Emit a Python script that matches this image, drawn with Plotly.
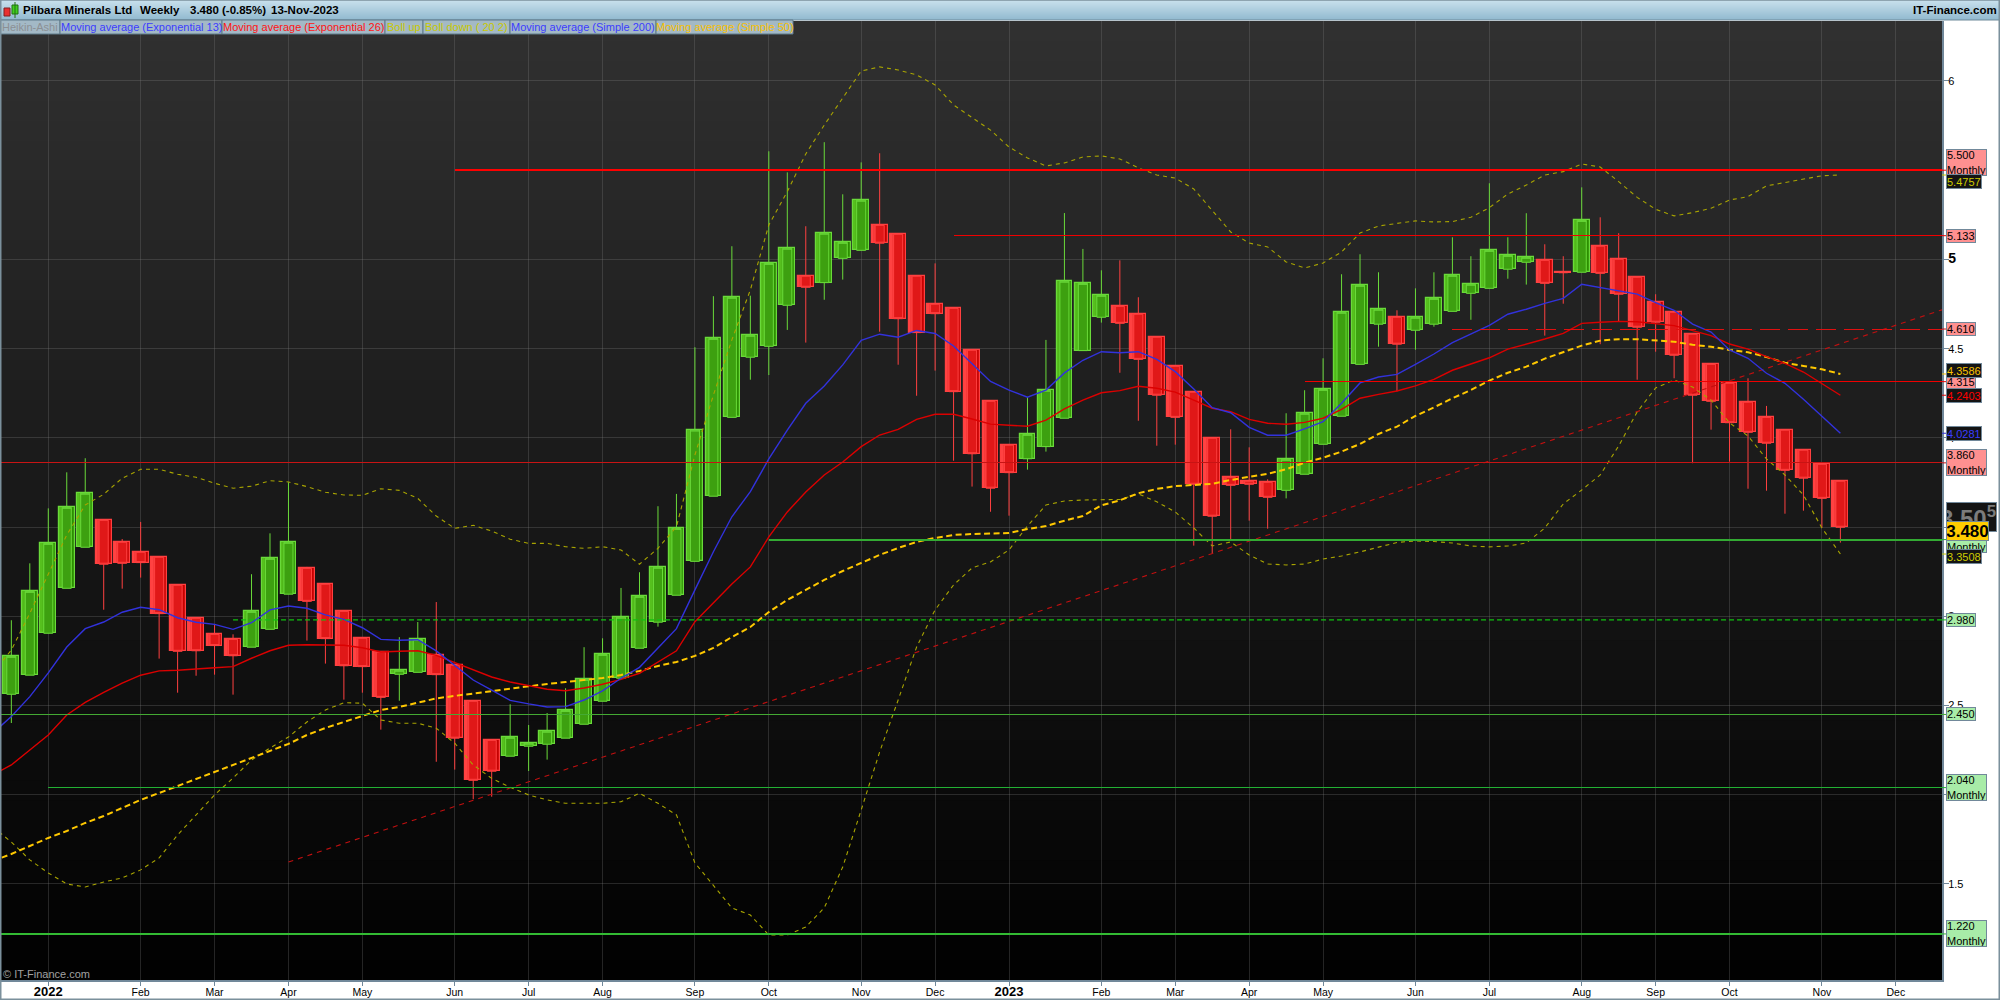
import pandas as pd
import plotly.graph_objects as go

# ---------- data ----------
START = "2021-12-20"
DATES = pd.date_range(START, periods=100, freq="7D")
LINE_DATES = pd.date_range("2021-12-13", periods=101, freq="7D")

OPEN = [2.563,2.670,2.905,3.157,3.387,3.538,3.415,3.359,3.331,3.174,2.989,2.899,2.871,2.827,2.927,3.124,3.269,3.180,3.028,2.877,
        2.800,2.675,2.686,2.782,2.726,2.524,2.305,2.216,2.272,2.283,2.317,2.395,2.524,2.653,2.821,2.967,3.118,3.308,3.673,4.115,
        4.452,4.513,4.743,4.906,4.870,5.006,5.051,5.191,5.141,4.906,4.749,4.726,4.491,4.205,3.959,3.883,3.951,4.110,4.489,4.676,
        4.737,4.693,4.564,4.401,4.256,3.998,3.779,3.757,3.751,3.706,3.796,3.964,4.121,4.412,4.637,4.676,4.603,4.637,4.709,4.810,
        4.838,4.945,4.984,4.995,4.928,4.928,5.074,5.001,4.900,4.760,4.704,4.581,4.412,4.306,4.200,4.115,4.043,3.931,3.852,3.757]
HIGH = [2.978,3.297,3.605,3.807,3.886,3.538,3.433,3.529,3.331,3.174,2.989,2.951,2.899,3.236,3.465,3.751,3.277,3.180,3.028,2.877,
        2.800,2.883,2.968,3.080,2.726,2.524,2.305,2.507,2.391,2.458,2.597,2.827,2.877,3.159,3.247,3.617,3.686,4.508,4.794,5.074,
        4.797,5.606,5.488,5.186,5.657,5.365,5.544,5.595,5.141,4.906,4.978,4.726,4.491,4.205,3.966,4.228,4.549,5.260,5.059,4.939,
        4.995,4.788,4.564,4.401,4.256,3.998,4.048,3.947,3.768,4.138,4.267,4.446,4.917,5.029,4.928,4.715,4.838,4.928,5.124,5.018,
        5.427,5.124,5.259,5.085,5.018,5.404,5.236,5.147,4.906,4.805,4.704,4.581,4.412,4.306,4.334,4.179,4.043,3.931,3.852,3.757]
LOW = [2.402,2.670,2.905,3.157,3.387,3.037,3.155,3.217,2.763,2.572,2.667,2.673,2.561,2.827,2.927,3.124,2.864,2.735,2.533,2.572,
       2.365,2.527,2.686,2.185,2.141,1.975,1.989,2.216,2.133,2.197,2.317,2.395,2.524,2.653,2.821,2.942,3.118,3.308,3.673,4.115,
       4.326,4.352,4.605,4.534,4.774,4.887,5.051,4.595,4.410,4.236,4.377,3.872,3.727,3.586,3.564,3.822,3.923,4.110,4.489,4.646,
       4.365,4.096,3.956,3.962,3.396,3.351,3.425,3.536,3.491,3.661,3.796,3.964,4.121,4.412,4.511,4.261,4.494,4.623,4.709,4.662,
       4.838,4.892,4.859,4.573,4.752,4.928,4.525,4.653,4.326,4.483,4.334,3.858,4.046,3.867,3.715,3.704,3.575,3.592,3.497,3.413]
CLOSE = [2.776,3.140,3.409,3.611,3.690,3.292,3.297,3.301,3.015,2.804,2.807,2.836,2.779,3.028,3.325,3.415,3.084,2.875,2.723,2.718,
         2.546,2.698,2.871,2.673,2.317,2.081,2.132,2.322,2.289,2.356,2.473,2.647,2.787,2.995,3.112,3.275,3.493,4.044,4.558,4.788,
         4.575,4.978,5.063,4.844,5.147,5.096,5.332,5.091,4.668,4.590,4.696,4.259,3.911,3.718,3.805,4.020,4.267,4.878,4.866,4.799,
         4.642,4.440,4.239,4.115,3.740,3.561,3.734,3.740,3.667,3.880,4.138,4.272,4.704,4.855,4.721,4.525,4.676,4.782,4.911,4.861,
         5.051,5.023,5.012,4.866,4.926,5.219,4.922,4.805,4.620,4.648,4.463,4.239,4.205,4.085,4.031,3.970,3.818,3.774,3.661,3.499]

EMA13 = [2.346,2.438,2.550,2.683,2.828,2.931,2.968,3.023,3.051,3.037,2.992,2.967,2.955,2.927,2.964,3.036,3.058,3.045,3.008,2.983,
         2.936,2.871,2.866,2.869,2.806,2.726,2.643,2.586,2.529,2.509,2.492,2.494,2.531,2.582,2.653,2.714,2.824,2.931,3.148,3.362,
         3.558,3.699,3.882,4.044,4.194,4.291,4.409,4.546,4.581,4.564,4.602,4.585,4.515,4.417,4.316,4.268,4.228,4.268,4.364,4.435,
         4.483,4.477,4.483,4.440,4.371,4.274,4.169,4.141,4.059,4.015,4.015,4.050,4.091,4.194,4.308,4.341,4.356,4.412,4.470,4.534,
         4.582,4.631,4.693,4.721,4.754,4.782,4.861,4.842,4.827,4.806,4.758,4.715,4.638,4.593,4.493,4.446,4.362,4.306,4.216,4.119,4.026]
EMA26 = [2.111,2.167,2.251,2.335,2.447,2.518,2.574,2.625,2.670,2.694,2.698,2.703,2.712,2.718,2.765,2.807,2.838,2.841,2.841,2.838,
         2.824,2.800,2.804,2.807,2.781,2.741,2.698,2.660,2.632,2.610,2.591,2.583,2.598,2.619,2.647,2.681,2.746,2.807,2.970,3.075,
         3.181,3.277,3.445,3.585,3.697,3.792,3.865,3.951,4.016,4.048,4.104,4.132,4.132,4.106,4.077,4.071,4.065,4.099,4.162,4.212,
         4.253,4.265,4.289,4.278,4.256,4.212,4.166,4.147,4.104,4.082,4.076,4.087,4.110,4.160,4.222,4.244,4.263,4.291,4.328,4.379,
         4.414,4.449,4.497,4.525,4.554,4.586,4.642,4.648,4.653,4.651,4.640,4.629,4.601,4.573,4.526,4.497,4.455,4.418,4.369,4.306,4.239]
SMA50 = [1.629,1.668,1.713,1.758,1.797,1.842,1.881,1.926,1.971,2.010,2.049,2.088,2.128,2.167,2.206,2.245,2.285,2.335,2.374,2.408,
         2.442,2.475,2.492,2.514,2.540,2.554,2.568,2.582,2.596,2.607,2.621,2.632,2.643,2.654,2.671,2.694,2.722,2.744,2.778,2.823,
         2.884,2.940,3.024,3.092,3.148,3.204,3.254,3.299,3.344,3.383,3.417,3.439,3.456,3.461,3.464,3.467,3.489,3.506,3.536,3.562,
         3.622,3.650,3.690,3.714,3.730,3.738,3.742,3.764,3.783,3.799,3.824,3.861,3.889,3.923,3.966,4.022,4.063,4.123,4.171,4.222,
         4.268,4.321,4.365,4.399,4.444,4.480,4.517,4.545,4.553,4.553,4.547,4.539,4.522,4.511,4.493,4.480,4.453,4.421,4.403,4.384,4.358]
BOLL_UP = [2.683,2.811,3.017,3.232,3.456,3.624,3.684,3.774,3.824,3.824,3.796,3.779,3.746,3.718,3.729,3.760,3.753,3.727,3.695,3.680,
           3.678,3.715,3.706,3.661,3.562,3.493,3.510,3.478,3.432,3.409,3.409,3.390,3.381,3.390,3.372,3.292,3.381,3.502,3.904,4.240,
           4.549,4.829,5.193,5.380,5.591,5.753,5.905,6.056,6.079,6.062,6.034,5.978,5.866,5.798,5.725,5.630,5.569,5.524,5.541,5.574,
           5.580,5.563,5.513,5.473,5.456,5.395,5.277,5.154,5.092,5.070,4.986,4.952,4.980,5.042,5.148,5.187,5.202,5.216,5.210,5.212,
           5.236,5.290,5.367,5.417,5.473,5.492,5.535,5.518,5.436,5.348,5.281,5.244,5.262,5.287,5.333,5.352,5.412,5.430,5.449,5.469,5.473]
BOLL_DOWN = [1.820,1.735,1.635,1.562,1.500,1.483,1.511,1.534,1.579,1.646,1.775,1.887,1.999,2.094,2.195,2.262,2.324,2.408,2.475,2.516,
             2.513,2.419,2.401,2.401,2.373,2.289,2.167,2.092,2.042,1.999,1.971,1.952,1.952,1.952,1.961,2.008,1.952,1.887,1.618,1.489,
             1.366,1.326,1.214,1.214,1.259,1.366,1.595,1.915,2.240,2.531,2.828,3.036,3.176,3.271,3.305,3.372,3.506,3.624,3.646,3.652,
             3.655,3.655,3.686,3.642,3.585,3.495,3.394,3.417,3.344,3.293,3.288,3.293,3.321,3.338,3.361,3.389,3.414,3.422,3.419,3.411,
             3.394,3.389,3.394,3.411,3.495,3.630,3.708,3.792,3.955,4.145,4.280,4.324,4.285,4.212,4.084,4.011,3.882,3.792,3.680,3.495,3.349]

TREND_DATES = ["2022-04-04", "2023-12-25"]
TREND_VALUES = [1.623, 4.735]

LEVEL_VALUES = [5.500, 5.133, 4.610, 4.315, 3.860, 3.430, 2.980, 2.450, 2.040, 1.220]
LEVEL_STARTS = ["2022-06-06", "2022-12-12", "2023-06-19", "2023-04-24", "2021-12-01",
                "2022-10-03", "2022-03-14", "2021-12-01", "2022-01-03", "2021-12-01"]
LEVEL_COLORS = ["#ff0000", "#f00000", "#e01010", "#f00000", "#c81414",
                "#33aa33", "#10c010", "#44aa33", "#22b033", "#33bb33"]
LEVEL_WIDTHS = [2, 1, 1, 1, 1, 2, 1.4, 1, 1, 2]
LEVEL_DASHES = ["solid", "solid", "20px,8px", "solid", "solid", "solid", "5px,3px", "solid", "solid", "solid"]
LEVEL_CRISP = [1, 1, 1, 1, 1, 1, 0, 1, 1, 1]

YTICKS = [1.5, 2, 2.5, 3, 3.5, 4, 4.5, 5, 6]
YTICK_TEXT = ["1.5", "2", "2.5", "3", "3.5", "4", "4.5", "<span style='font-size:14px'><b>5</b></span>", "6"]
XTICKS = ["2022-01-03", "2022-02-07", "2022-03-07", "2022-04-04", "2022-05-02", "2022-06-06", "2022-07-04",
          "2022-08-01", "2022-09-05", "2022-10-03", "2022-11-07", "2022-12-05", "2023-01-02", "2023-02-06",
          "2023-03-06", "2023-04-03", "2023-05-01", "2023-06-05", "2023-07-03", "2023-08-07", "2023-09-04",
          "2023-10-02", "2023-11-06", "2023-12-04"]
XTICK_TEXT = ["<span style='font-size:13px'><b>2022</b></span>", "Feb", "Mar", "Apr", "May", "Jun", "Jul", "Aug", "Sep", "Oct",
              "Nov", "Dec", "<span style='font-size:13px'><b>2023</b></span>", "Feb", "Mar", "Apr", "May", "Jun", "Jul",
              "Aug", "Sep", "Oct", "Nov", "Dec"]
LEGEND_TEXT = ["Heikin-Ashi", "Moving average (Exponential 13)", "Moving average (Exponential 26)", "Boll up",
               "Boll down ( 20 2)", "Moving average (Simple 200)", "Moving average (Simple 50)"]
LEGEND_COLOR = ["#8c9094", "#3c3cff", "#ff1414", "#c8c800", "#c8c800", "#3c3cff", "#f8c000"]

# ---------- layout geometry (pixels of the 2000x1000 page) ----------
W, H = 2000, 1000
L, R, T, B = 1, 58, 21, 20
PW, PH = W - L - R, H - T - B
FONT = "Liberation Sans, Arial, sans-serif"


def px(x):
    return (x - L) / PW


def py(y):
    return 1 - (y - T) / PH


WEEK_MS = 7 * 86400000
PX_PER_WEEK = 18.475
BODY_MS = 15.8 / PX_PER_WEEK * WEEK_MS
STRIPS = 8

RED_L, RED_R = (255, 66, 66), (198, 0, 0)
GRN_L, GRN_R = (86, 192, 30), (44, 142, 0)
is_up = [c >= o for o, c in zip(OPEN, CLOSE)]


def mix(a, b, t):
    return "rgb(%d,%d,%d)" % tuple(round(p + (q - p) * t) for p, q in zip(a, b))


fig = go.Figure()

# wicks (and a hidden body) through the candlestick trace
fig.add_trace(go.Candlestick(
    x=DATES, open=OPEN, high=HIGH, low=LOW, close=CLOSE, whiskerwidth=0,
    increasing=dict(line=dict(color="#6ada3a", width=1), fillcolor="#3da010"),
    decreasing=dict(line=dict(color="#ff4040", width=1), fillcolor="#e01818"),
    hoverinfo="skip", showlegend=False))

# horizontal shading of every body
base = [min(o, c) for o, c in zip(OPEN, CLOSE)]
span = [abs(o - c) for o, c in zip(OPEN, CLOSE)]
for s in range(STRIPS):
    t = s / (STRIPS - 1)
    fig.add_trace(go.Bar(
        x=DATES, y=span, base=base, width=BODY_MS / STRIPS,
        offset=-BODY_MS / 2 + s * BODY_MS / STRIPS,
        marker=dict(color=[mix(GRN_L, GRN_R, t) if u else mix(RED_L, RED_R, t) for u in is_up],
                    line=dict(width=0)),
        hoverinfo="skip", showlegend=False))

# outline of every body
fig.add_trace(go.Bar(
    x=DATES, y=span, base=base, width=BODY_MS, offset=-BODY_MS / 2,
    marker=dict(color="rgba(0,0,0,0)",
                line=dict(color=["#6ada3a" if u else "#ff4040" for u in is_up], width=1.2)),
    hoverinfo="skip", showlegend=False))

# overlays
fig.add_trace(go.Scatter(x=TREND_DATES, y=TREND_VALUES, mode="lines",
                         line=dict(color="#c01010", width=1.1, dash="5px,5px"), hoverinfo="skip", showlegend=False))
for series in (BOLL_UP, BOLL_DOWN):
    fig.add_trace(go.Scatter(x=LINE_DATES, y=series, mode="lines",
                             line=dict(color="#a8a400", width=1.1, dash="4px,4px"), hoverinfo="skip", showlegend=False))
fig.add_trace(go.Scatter(x=LINE_DATES, y=SMA50, mode="lines",
                         line=dict(color="#ffc800", width=2, dash="6px,3.5px"), hoverinfo="skip", showlegend=False))
fig.add_trace(go.Scatter(x=LINE_DATES, y=EMA26, mode="lines",
                         line=dict(color="#dc0000", width=1.4), hoverinfo="skip", showlegend=False))
fig.add_trace(go.Scatter(x=LINE_DATES, y=EMA13, mode="lines",
                         line=dict(color="#3232dc", width=1.4), hoverinfo="skip", showlegend=False))

for v, st, col, wd, ds in zip(LEVEL_VALUES, LEVEL_STARTS, LEVEL_COLORS, LEVEL_WIDTHS, LEVEL_DASHES):
    fig.add_trace(go.Scatter(x=[st, "2024-01-15"], y=[v, v], mode="lines",
                             line=dict(color=col, width=wd, dash=ds), hoverinfo="skip", showlegend=False))

# ---------- chrome ----------
shapes = []
# dark background gradient: each band runs down to the plot bottom so no seams show
for g in range(48):
    y0 = T + PH * g / 48
    shapes.append(dict(type="rect", xref="paper", yref="paper", x0=0, x1=1, y0=py(y0), y1=0, layer="below",
                       fillcolor="rgb(%d,%d,%d)" % (48 - g, 48 - g, 48 - g), line=dict(width=0)))
# title band gradient
for k in range(20):
    c = mix((200, 224, 236), (146, 186, 208), k / 19)
    shapes.append(dict(type="rect", xref="paper", yref="paper", x0=px(0), x1=px(W), y0=py(k), y1=py(20),
                       layer="above", fillcolor=c, line=dict(width=0)))
shapes.append(dict(type="line", xref="paper", yref="paper", x0=px(0), x1=px(W), y0=py(20), y1=py(20),
                   line=dict(color="#6f8a9a", width=1), layer="above"))
# indicator row
CELLS = [0, 60, 222, 385, 423, 510, 656, 793]
for a, b in zip(CELLS[:-1], CELLS[1:]):
    shapes.append(dict(type="rect", xref="paper", yref="paper", x0=px(a), x1=px(b), y0=py(20), y1=py(34),
                       layer="above", fillcolor="#a3b9c6", line=dict(color="#5f7a8a", width=1)))
# page frame
for (a, b, c, d) in [(0, 1.5, 0, H), (W - 1.5, W, 0, H), (0, W, H - 1.5, H), (0, W, 0, 0.8)]:
    shapes.append(dict(type="rect", xref="paper", yref="paper", x0=px(a), x1=px(b), y0=py(c), y1=py(d),
                       layer="above", fillcolor="#7b909c", line=dict(width=0)))
# logo candles
shapes += [
    dict(type="rect", xref="paper", yref="paper", x0=px(4), x1=px(10), y0=py(8), y1=py(16),
         fillcolor="#e83030", line=dict(color="#802020", width=1), layer="above"),
    dict(type="rect", xref="paper", yref="paper", x0=px(12), x1=px(18), y0=py(5), y1=py(14),
         fillcolor="#40d020", line=dict(color="#207010", width=1), layer="above"),
    dict(type="line", xref="paper", yref="paper", x0=px(15), x1=px(15), y0=py(2), y1=py(18),
         line=dict(color="#207010", width=1), layer="above"),
]
# small coloured stubs between the plot edge and the value boxes
STUB_X0, STUB_X1 = 1, px(1947)
for v, col in zip(LEVEL_VALUES, LEVEL_COLORS):
    shapes.append(dict(type="line", xref="paper", yref="y", x0=STUB_X0, x1=STUB_X1, y0=v, y1=v,
                       line=dict(color=col, width=1), layer="above"))
for v, col in [(5.473, "#c8c800"), (4.358, "#f8c000"), (4.239, "#e00000"), (4.026, "#3232dc"), (3.349, "#c8c800")]:
    shapes.append(dict(type="line", xref="paper", yref="y", x0=STUB_X0, x1=STUB_X1, y0=v, y1=v,
                       line=dict(color=col, width=1), layer="above"))

ann = []


def text(x, y, s, size=11, color="black", anchor="left", bold=False):
    ann.append(dict(xref="paper", yref="paper", x=px(x), y=py(y), text=("<b>%s</b>" % s) if bold else s,
                    showarrow=False, xanchor=anchor, yanchor="middle", borderpad=0, borderwidth=0,
                    font=dict(family=FONT, size=size, color=color)))


text(23, 10, "Pilbara Minerals Ltd", 11.5, bold=True)
text(140, 10, "Weekly", 11.5, bold=True)
text(190, 10, "3.480 (-0.85%)", 11.5, bold=True)
text(271, 10, "13-Nov-2023", 11.5, bold=True)
text(1997, 10, "IT-Finance.com", 11.5, anchor="right", bold=True)
for a, b, s, c in zip(CELLS[:-1], CELLS[1:], LEGEND_TEXT, LEGEND_COLOR):
    text((a + b) / 2, 27, s, 11, c, "center")
text(3, 974, "© IT-Finance.com", 11, "#a2a2a2")


def box(v, s, bg, fg, w, h, dy=0, size=11, bold=False, tx="left"):
    ann.append(dict(xref="paper", yref="y", x=px(1946.5), y=v, yshift=-dy, text=("<b>%s</b>" % s) if bold else s,
                    showarrow=False, xanchor="left", yanchor="middle", align=tx, valign="middle",
                    width=w - 2, height=h - 2, borderpad=0, borderwidth=1, bordercolor="#71889a", bgcolor=bg,
                    font=dict(family=FONT, size=size, color=fg)))


PINK, GREEN, DARK = "#ff9090", "#a8eca8", "#141414"
box(5.500, "5.500<br>Monthly", PINK, "black", 41, 27, dy=-8)
box(5.473, "5.4757", DARK, "#cccc00", 36, 15, dy=6)
box(5.133, "5.133", PINK, "black", 30, 14)
box(4.610, "4.610", PINK, "black", 30, 14)
box(4.315, "4.315", PINK, "black", 30, 14)
box(4.358, "4.3586", DARK, "#f8c000", 36, 15, dy=-3)
box(4.239, "4.2403", DARK, "#ff0000", 36, 15)
box(4.026, "4.0281", DARK, "#3c3cff", 36, 15)
box(3.860, "3.860<br>Monthly", PINK, "black", 41, 27)
box(3.430, "3.430<br>Monthly", GREEN, "black", 41, 27)
box(3.557, "3.50<sup>5</sup>", DARK, "#7c7c7c", 51, 30, size=24, bold=True, tx="right")
box(3.349, "3.3508", DARK, "#cccc00", 36, 15, dy=2)
box(3.480, "3.480", "#ffcc00", "black", 43, 20, size=17, bold=True, tx="center")
box(2.980, "2.980", GREEN, "black", 30, 14)
box(2.450, "2.450", GREEN, "black", 30, 14)
box(2.040, "2.040<br>Monthly", GREEN, "black", 41, 27)
box(1.220, "1.220<br>Monthly", GREEN, "black", 41, 27)

GRID = "rgba(130,130,130,0.28)"
fig.update_layout(
    template="none",
    width=W, height=H, margin=dict(l=L, r=R, t=T, b=B, pad=0),
    paper_bgcolor="white", plot_bgcolor="black",
    barmode="overlay", boxmode="overlay", bargap=0,
    font=dict(family=FONT, size=11, color="black"), showlegend=False,
    shapes=shapes, annotations=ann,
    xaxis=dict(type="date", range=["2021-12-16 02:00", "2023-12-21 12:00"], tickmode="array",
               tickvals=XTICKS, ticktext=XTICK_TEXT, tickangle=0, rangeslider=dict(visible=False),
               automargin=False, showgrid=True, gridcolor=GRID, gridwidth=1, zeroline=False,
               ticks="outside", ticklen=4, tickcolor="#71889a", tickwidth=1,
               ticklabelstandoff=-3,
               showline=True, linecolor="#71889a", linewidth=2,
               tickfont=dict(family=FONT, size=10.5, color="black")),
    yaxis=dict(type="linear", side="right", range=[0.9619, 6.3362], tickmode="array",
               tickvals=YTICKS, ticktext=YTICK_TEXT,
               automargin=False, showgrid=True, gridcolor=GRID, gridwidth=1, zeroline=False,
               ticks="outside", ticklen=5, tickcolor="#71889a", tickwidth=1,
               ticklabelstandoff=-3,
               showline=True, linecolor="#71889a", linewidth=2,
               tickfont=dict(family=FONT, size=11, color="black")),
)

POST = """
document.body.style.margin='0';document.body.style.overflow='hidden';
var t=document.querySelectorAll('.scatterlayer .trace');
var c=%s;
for(var i=0;i<c.length;i++){if(c[i]){t[t.length-c.length+i].querySelectorAll('path').forEach(function(p){p.style.shapeRendering='crispEdges';});}}
""" % str(LEVEL_CRISP)
fig.write_html("out.html", config=dict(displayModeBar=False), post_script=POST)
